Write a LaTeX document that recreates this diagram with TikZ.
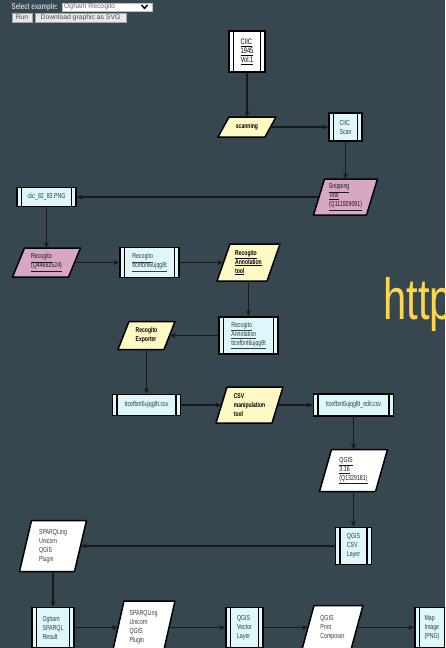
\documentclass[tikz,border=0pt]{standalone}
\usepackage{fontspec}
\setmainfont{Liberation Sans}[FakeStretch=0.72]
\newfontfamily\uifont{Liberation Sans}
\usetikzlibrary{arrows.meta}
\definecolor{bg}{RGB}{55,71,79}
\definecolor{cyanbox}{RGB}{222,247,250}
\definecolor{yelbox}{RGB}{255,249,196}
\definecolor{pinkbox}{RGB}{216,167,196}
\definecolor{txtgray}{RGB}{50,60,66}
\definecolor{httpyel}{RGB}{255,213,79}
\definecolor{uitext}{RGB}{196,203,207}
\definecolor{btnfill}{RGB}{232,232,232}
\tikzset{
  sub/.style={draw=black, line width=1.5pt, fill=cyanbox, inner sep=1pt, align=left,
    font=\fontsize{7.3}{9}\selectfont, text=txtgray,
    path picture={\draw[line width=1.2pt]
      ([xshift=4.5pt]path picture bounding box.north west) -- ([xshift=4.5pt]path picture bounding box.south west)
      ([xshift=-4.5pt]path picture bounding box.north east) -- ([xshift=-4.5pt]path picture bounding box.south east);}},
  ptext/.style={inner sep=1pt, align=left, font=\fontsize{7.3}{9}\selectfont},
  yeltext/.style={text=black, font=\fontsize{7}{9}\selectfont\bfseries},
  pinktext/.style={text=black!90},
  whitetext/.style={text=txtgray},
  arr/.style={draw=black!90, line width=1.3pt, -{Stealth[length=6pt,width=5pt]}},
  btn/.style={draw=gray!70, fill=btnfill, inner sep=0pt, font=\uifont\fontsize{6.8}{7}\selectfont, text=gray!60!black},
}
\newcommand\pgram[9]{%
  \filldraw[fill=#7, draw=black, line width=1.5pt, line join=round]
    ({#2-#4/2},{#3+#5/2}) -- ({#2+#4/2-#6},{#3+#5/2}) -- ({#2+#4/2},{#3-#5/2}) -- ({#2-#4/2+#6},{#3-#5/2}) -- cycle;
  \node[ptext, #8, minimum width={#4-#6}, minimum height={#5}] (#1) at (#2,#3) {#9};}
\begin{document}
\begin{tikzpicture}[x=1pt, y=-1pt]
\useasboundingbox (0,0) rectangle (445,648);
\clip (0,0) rectangle (445,648);
\fill[bg] (0,0) rectangle (445,648);

% UI controls
\node[font=\fontsize{8.5}{9}\selectfont\bfseries, text=uitext, anchor=west, inner sep=0pt] (sel) at (11.5,7) {Select example:};
\node[draw=gray!50, fill=white, minimum width=90pt, minimum height=8.5pt, anchor=west, inner sep=0pt] (drop) at (62,7) {};
\node[font=\uifont\fontsize{6.8}{7}\selectfont, text=gray!80!black, anchor=west, inner sep=0pt] (droptxt) at (64,7) {Ogham Recogito};
\draw[line width=1.5pt, black] (141.5,5) -- (144.5,8.3) -- (147.5,5);
\node[btn, minimum width=20pt, minimum height=9pt] (run) at (22,17.5) {Run};
\node[btn, minimum width=91pt, minimum height=9pt] (dl) at (80.5,17.5) {Download graphic as SVG};

% big yellow text at the right edge
\node[font=\fontsize{58}{60}\selectfont, text=httpyel, anchor=base west, inner sep=0pt] (http) at (383,319) {http};

% boxes (subroutine shape)
\node[sub, fill=white, text=black, minimum width=36pt, minimum height=41pt, font=\fontsize{8}{9}\selectfont] (ciic) at (247,51.5) {\underline{CIIC}\\\underline{1945}\\\underline{Vol.1}};
\node[sub, minimum width=33pt, minimum height=28pt] (cscan) at (345.5,127) {CIIC\\Scan};
\node[sub, minimum width=59pt, minimum height=19pt] (cpng) at (46.5,197) {ciic\_82\_83.PNG};
\node[sub, minimum width=59pt, minimum height=30pt] (rtt) at (149.5,262.5) {\underline{Recogito}\\\underline{ttcefbnt6ujqg8t}};
\node[sub, minimum width=59pt, minimum height=37pt] (rann) at (248.5,335.5) {\underline{Recogito}\\\underline{Annotation}\\\underline{ttcefbnt6ujqg8t}};
\node[sub, minimum width=68pt, minimum height=21pt] (csv) at (146.5,405) {ttcefbnt6ujqg8t.csv};
\node[sub, minimum width=80pt, minimum height=22pt] (editcsv) at (353.5,405) {ttcefbnt6ujqg8t\_edit.csv};
\node[sub, minimum width=36pt, minimum height=37pt] (csvlayer) at (353.5,546) {QGIS\\CSV\\Layer};
\node[sub, minimum width=42pt, minimum height=40pt] (ogham) at (53,627.5) {Ogham\\SPARQL\\Result};
\node[sub, minimum width=37pt, minimum height=40pt] (vector) at (244.5,627.5) {QGIS\\Vector\\Layer};
\node[sub, minimum width=34pt, minimum height=40pt] (mapimg) at (432,627.5) {Map\\Image\\(PNG)};

% parallelograms
\pgram{scan}{247}{127}{58}{20}{11}{yelbox}{yeltext}{scanning}
\pgram{snip}{345.5}{197}{64}{36}{11}{pinkbox}{pinktext}{\underline{Snipping}\\\underline{Tool}\\\underline{(Q111929091)}}
\pgram{recq}{46.5}{262.5}{68}{29}{12}{pinkbox}{pinktext}{\underline{Recogito}\\\underline{(Q44692524)}}
\pgram{anntool}{248.5}{262.5}{63}{37}{13}{yelbox}{yeltext}{\underline{Recogito}\\\underline{Annotation}\\\underline{tool}}
\pgram{rexp}{146.5}{335.5}{57}{28}{11}{yelbox}{yeltext}{Recogito\\Exporter}
\pgram{csvtool}{249.5}{405}{67}{36}{11}{yelbox}{yeltext}{CSV\\manipulation\\tool}
\pgram{qgis}{353.5}{470.5}{68}{42}{12}{white}{pinktext}{\underline{QGIS}\\\underline{3.16}\\\underline{(Q1329181)}}
\pgram{sparqL}{53}{546}{67}{51}{12}{white}{whitetext}{SPARQLing\\Unicorn\\QGIS\\Plugin}
\pgram{sparqB}{143.5}{627.5}{63}{53}{12}{white}{whitetext}{SPARQLing\\Unicorn\\QGIS\\Plugin}
\pgram{composer}{332.5}{627.5}{61}{44}{12}{white}{whitetext}{QGIS\\Print\\Composer}

% connectors
\draw[arr] (ciic.south) -- (scan.north);
\draw[arr] (scan.east) -- (cscan.west);
\draw[arr] (cscan.south) -- (snip.north);
\draw[arr] (snip.west) -- (cpng.east);
\draw[arr] (cpng.south) -- (recq.north);
\draw[arr] (recq.east) -- (rtt.west);
\draw[arr] (rtt.east) -- (anntool.west);
\draw[arr] (anntool.south) -- (rann.north);
\draw[arr] (rann.west) -- (rexp.east);
\draw[arr] (rexp.south) -- (csv.north);
\draw[arr] (csv.east) -- (csvtool.west);
\draw[arr] (csvtool.east) -- (editcsv.west);
\draw[arr] (editcsv.south) -- (qgis.north);
\draw[arr] (qgis.south) -- (csvlayer.north);
\draw[arr] (csvlayer.west) -- (sparqL.east);
\draw[arr] (sparqL.south) -- (ogham.north);
\draw[arr] (ogham.east) -- (sparqB.west);
\draw[arr] (sparqB.east) -- (vector.west);
\draw[arr] (vector.east) -- (composer.west);
\draw[arr] (composer.east) -- (mapimg.west);
\end{tikzpicture}
\end{document}
